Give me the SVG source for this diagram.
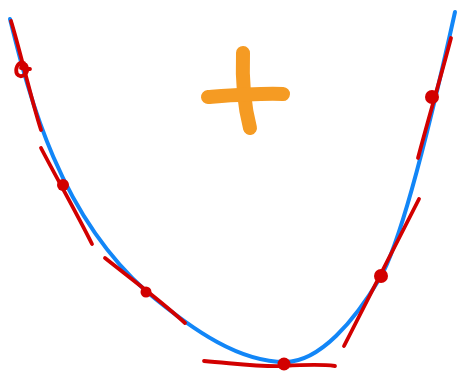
<svg xmlns="http://www.w3.org/2000/svg" width="462" height="374" viewBox="0 0 462 374">
<style>
.curve{fill:none;stroke:#1286f7;stroke-width:4;stroke-linecap:round}
.tan{fill:none;stroke:#d20000;stroke-width:3.8;stroke-linecap:round;stroke-linejoin:round}
.dot{fill:#d20000}
.plus{fill:none;stroke:#f59b23;stroke-width:14;stroke-linecap:round}
</style>
<rect width="462" height="374" fill="#ffffff"/>
<path class="curve" d="M10,19 C30,100 60,215 147,292 C195,332 240,362 285,362 C320,362 355,320 380,278 C405,236 440,80 455,12"/>
<g id="plus">
<path class="plus" d="M243,53 C242,80 244,105 250,128"/>
<path class="plus" d="M208,97 C235,95 260,93 283,94"/>
</g>
<g id="connectors">
<path class="tan" d="M11,21 C20,50 30,95 41,130"/>
<path class="tan" d="M41,148 C55,175 75,210 92,244"/>
<path class="tan" d="M105,258 C130,278 160,300 185,323"/>
<path class="tan" d="M204,361 C240,364 260,367 284,366 C300,365 320,364 335,366"/>
<path class="tan" d="M419,199 L344,346"/>
<path class="tan" d="M451,38 C440,80 428,120 418,158" stroke-width="4.8"/>
</g>
<g id="p1"><path class="tan" d="M24,63 C17,61 15,70 17,74 C21,79 28,74 27,68 C26,63 22,63 21,68 L30,69"/></g>
<g id="p2"><circle class="dot" cx="63" cy="185" r="6"/></g>
<g id="p3"><circle class="dot" cx="146" cy="292" r="5.5"/></g>
<g id="p4"><circle class="dot" cx="284" cy="364" r="6.5"/></g>
<g id="p5"><circle class="dot" cx="381" cy="276" r="7"/></g>
<g id="p6"><circle class="dot" cx="432" cy="97" r="7"/></g>
</svg>
